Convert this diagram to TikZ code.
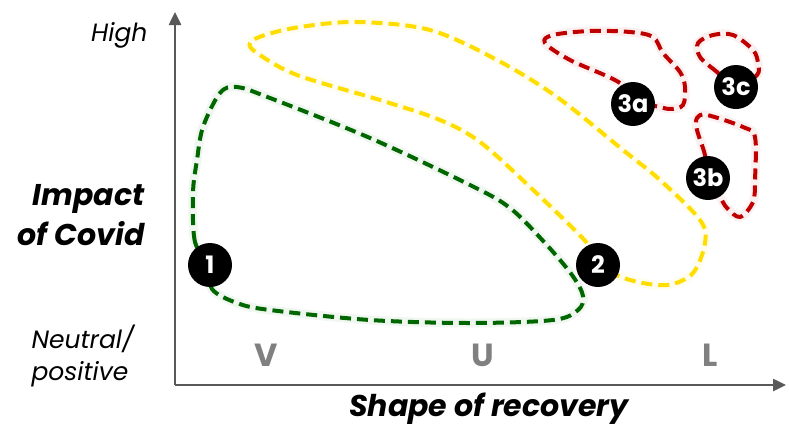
\documentclass[tikz,border=0pt]{standalone}
\usepackage{fontspec}
\setmainfont{Poppins}
\usetikzlibrary{arrows.meta}

\definecolor{axisgray}{HTML}{595959}
\definecolor{lettergray}{HTML}{808080}
\definecolor{zgreen}{HTML}{006600}
\definecolor{zyellow}{HTML}{FFDD00}
\definecolor{zred}{HTML}{C00000}

\begin{document}
\begin{tikzpicture}[
    x=1pt, y=-1pt,
    axis/.style={draw=axisgray, line width=2.5pt, -{Triangle[length=13pt,width=12pt]}},
    zone/.style={draw=#1, line width=4pt, dash pattern=on 11pt off 6pt, line join=round,
                 preaction={draw=#1, line width=9pt, opacity=0.06, solid}},
    num/.style={circle, fill=black, text=white, minimum size=44pt, inner sep=0pt,
                font=\bfseries\fontsize{24}{24}\selectfont},
    lbl/.style={font=\itshape\fontsize{25}{32}\selectfont},
    title/.style={font=\bfseries\itshape\fontsize{30}{40}\selectfont},
    letter/.style={text=lettergray, font=\bfseries\fontsize{32}{32}\selectfont}
]
    \useasboundingbox (0,0) rectangle (789,429);

    % axes
    \coordinate (origin) at (175,385);
    \coordinate (ytip) at (175,12);
    \coordinate (xtip) at (786,385);
    \draw[axis] (origin) -- (ytip);
    \draw[axis] (origin) -- (xtip);

    % axis labels
    \node[lbl, anchor=east] (high) at (151,35) {High};
    \node[title, anchor=east, align=right] (impact) at (148,215) {Impact\\of Covid};
    \node[lbl, anchor=west, align=left] (neutral) at (28,356) {Neutral/\\positive};
    \node[title] (recovery) at (489,409) {Shape of recovery};
    \node[letter] (v) at (266,355) {V};
    \node[letter] (u) at (483,355) {U};
    \node[letter] (l) at (710,355) {L};

    % marker centres
    \coordinate (c1) at (210,265);
    \coordinate (c2) at (598,265);
    \coordinate (c3a) at (633,104);
    \coordinate (c3b) at (708,178);
    \coordinate (c3c) at (736,87);

    % zones
    \draw[zone=zgreen] plot[smooth cycle, tension=0.55] coordinates {
        (c1) (195,242) (193,193) (197,160) (203,127) (220,93) (237,87) (270,98)
        (370,138) (470,185) (510,208) (545,243) (572,275) (583,296)
        (578,310) (553,320) (470,323) (370,320) (270,310) (237,303) (212,289)};
    \draw[zone=zyellow] plot[smooth cycle, tension=0.55] coordinates {
        (c2) (587,243) (530,187) (480,142) (440,120) (380,100) (297,75) (257,53)
        (250,43) (265,35) (300,27) (357,22) (430,30) (497,60) (557,97) (623,150)
        (660,180) (700,220) (705,243) (693,273) (667,285) (630,280)};
    \draw[zone=zred] plot[smooth cycle, tension=0.55] coordinates {
        (c3a) (620,83) (570,60) (545,43) (553,35) (590,31) (630,32) (653,37)
        (663,53) (680,72) (685,87) (683,105) (670,109) (655,106)};
    \draw[zone=zred] plot[smooth cycle, tension=0.55] coordinates {
        (c3c) (717,72) (700,57) (698,43) (713,35) (733,35) (753,50) (758,63) (757,75)};
    \draw[zone=zred] plot[smooth cycle, tension=0.55] coordinates {
        (c3b) (705,155) (697,130) (697,118) (707,115) (743,127) (755,137) (755,180)
        (753,202) (740,217) (727,208) (720,197)};

    % markers
    \node[num] (n1) at (c1) {1};
    \node[num] (n2) at (c2) {2};
    \node[num] (n3a) at (c3a) {3a};
    \node[num] (n3b) at (c3b) {3b};
    \node[num] (n3c) at (c3c) {3c};
\end{tikzpicture}
\end{document}
